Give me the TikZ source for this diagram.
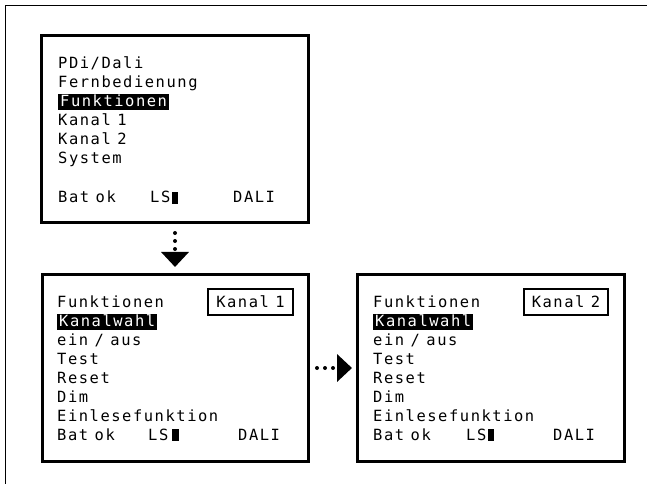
\documentclass[tikz,border=0pt]{standalone}
\usepackage{fontspec}
\newfontfamily\lcd[LetterSpace=10,WordSpace=0.6]{DejaVu Sans Mono}
\usetikzlibrary{arrows.meta, positioning}

\tikzset{
	screen/.style={draw, line width=3bp, minimum width=267bp, minimum height=187bp, anchor=north west, inner sep=0},
	txt/.style={anchor=base west, inner sep=0, font=\lcd\fontsize{15.5}{18}\selectfont},
	hilite/.style={txt, fill=black, text=white, inner xsep=2bp, inner ysep=1.5bp, text height=11bp, text depth=2bp},
	chanbox/.style={txt, anchor=center, draw, line width=2.5bp, minimum height=26bp, text height=11bp, text depth=0bp},
	cursor/.style={fill, inner sep=0, minimum width=6bp, minimum height=12bp, anchor=south west},
	dotarrow/.style={line width=4bp, line cap=round, dash pattern=on 0bp off 8bp, -{Triangle[length=15bp, width=27bp]}}
}

\begin{document}
\begin{tikzpicture}[x=1bp, y=-1bp]

	\useasboundingbox (0,0) rectangle (647,484);
	\draw[line width=1.8bp] (5.5,484) |- (647,5.5);

	% main menu
	\node[screen] (menu) at (40,34) {};
	\node[txt] (m1) at (58,68.5) {PDi/Dali};
	\node[txt] (m2) at (58,87.5) {Fernbedienung};
	\node[hilite] (m3) at (58,106.5) {Funktionen};
	\node[txt] (m4) at (58,125.5) {Kanal 1};
	\node[txt] (m5) at (58,144.5) {Kanal 2};
	\node[txt] (m6) at (58,163.5) {System};
	\node[txt] (mbat) at (58,202.5) {Bat ok};
	\node[txt] (mls) at (150,202.5) {LS};
	\node[cursor] (mcur) at (172,204) {};
	\node[txt] (mdali) at (233,202.5) {DALI};

	% Funktionen, Kanal 1
	\node[screen, minimum width=266bp] (kanal1) at (41,273) {};
	\node[txt] (a0) at (57,307) {Funktionen};
	\node[chanbox, minimum width=85bp] (achan) at (250.5,302) {Kanal 1};
	\node[hilite] (a1) at (57,326) {Kanalwahl};
	\foreach \t [count=\i from 2] in {ein / aus, Test, Reset, Dim, Einlesefunktion}
		\node[txt] (a\i) at (57,307+19*\i) {\t};
	\node[txt] (abat) at (57,440) {Bat ok};
	\node[txt] (als) at (148,440) {LS};
	\node[cursor, minimum width=7bp] (acur) at (172,441.5) {};
	\node[txt] (adali) at (238,440) {DALI};

	% Funktionen, Kanal 2
	\node[screen] (kanal2) at (356,273) {};
	\node[txt] (b0) at (373,307) {Funktionen};
	\node[chanbox, minimum width=84bp] (bchan) at (566,302) {Kanal 2};
	\node[hilite] (b1) at (373,326) {Kanalwahl};
	\foreach \t [count=\i from 2] in {ein / aus, Test, Reset, Dim, Einlesefunktion}
		\node[txt] (b\i) at (373,307+19*\i) {\t};
	\node[txt] (bbat) at (373,440) {Bat ok};
	\node[txt] (bls) at (466,440) {LS};
	\node[cursor] (bcur) at (488,441.5) {};
	\node[txt] (bdali) at (553,440) {DALI};

	\draw[dotarrow, shorten <=9bp, shorten >=6bp] (menu.south) -- (menu.south |- kanal1.north);
	\draw[dotarrow, shorten <=7bp, shorten >=4bp] (kanal1.east) -- (kanal2.west);

\end{tikzpicture}
\end{document}
